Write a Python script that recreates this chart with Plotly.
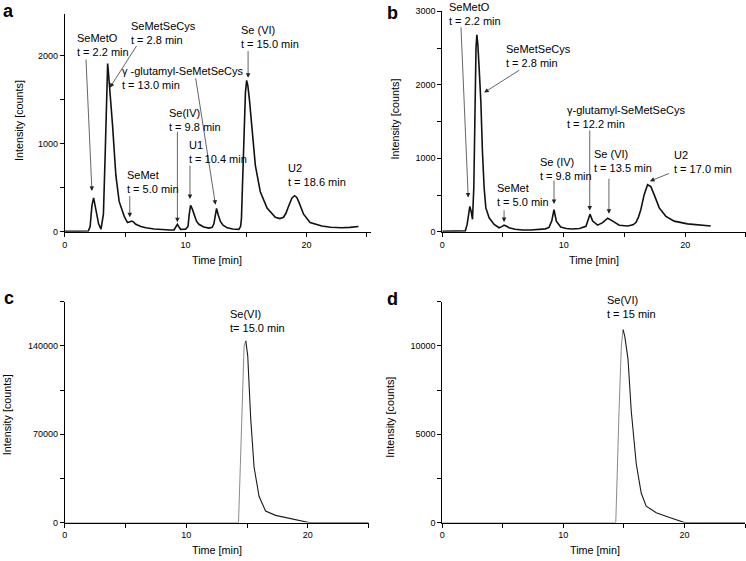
import plotly.graph_objects as go

# ---------------- data ----------------
time_a = [0, 1.0, 1.95, 2.1, 2.25, 2.39, 2.55, 2.8, 3.0, 3.2, 3.35, 3.47, 3.55, 3.62, 3.74,
          3.96, 4.23, 4.5, 4.92, 5.19, 5.4, 5.55, 5.7, 5.88, 6.3, 6.7, 7.4, 8.08, 8.7, 9.04,
          9.2, 9.32, 9.45, 9.59, 10.0, 10.2, 10.3, 10.41, 10.55, 10.69, 10.9, 11.1, 11.5,
          11.93, 12.2, 12.34, 12.45, 12.56, 12.7, 12.89, 13.1, 13.44, 13.9, 14.4, 14.55,
          14.62, 14.7, 14.8, 14.95, 15.05, 15.15, 15.28, 15.5, 15.77, 16.18, 16.74, 17.42,
          17.8, 18.1, 18.3, 18.52, 18.8, 19.02, 19.2, 19.35, 19.76, 20.3, 21.27, 22.0,
          22.9, 23.6, 24.3]
intensity_a = [5, 5, 8, 60, 300, 385, 250, 90, 30, 200, 900, 1650, 1910, 1800, 1610,
               1200, 640, 345, 175, 105, 115, 122, 110, 85, 60, 45, 32, 24, 20, 22,
               55, 85, 55, 28, 30, 60, 200, 300, 260, 195, 120, 85, 55,
               42, 50, 90, 200, 265, 190, 115, 75, 45, 32, 28, 60,
               150, 500, 1000, 1580, 1720, 1660, 1500, 1130, 755, 455, 270, 165,
               150, 165, 210, 290, 385, 410, 390, 345, 200, 105, 65, 52,
               45, 50, 60]

time_b = [0, 1.0, 1.9, 2.05, 2.17, 2.27, 2.38, 2.49, 2.6, 2.7, 2.78, 2.85, 2.93, 3.04,
          3.18, 3.31, 3.45, 3.59, 3.86, 4.27, 4.68, 4.9, 5.09, 5.3, 5.5, 6.0, 6.6, 7.3,
          7.97, 8.5, 8.79, 9.01, 9.2, 9.39, 9.75, 10.2, 10.7, 11.3, 11.83, 12.02, 12.16,
          12.38, 12.79, 13.2, 13.62, 14.03, 14.57, 15.26, 15.7, 15.94, 16.15, 16.35,
          16.62, 16.9, 17.17, 17.44, 17.86, 18.41, 19.09, 20.19, 21.28, 22.1]
intensity_b = [8, 8, 12, 100, 280, 345, 280, 170, 600, 1800, 2500, 2680, 2550, 2220,
               1770, 1090, 595, 325, 190, 100, 55, 70, 90, 75, 55, 35, 25, 25,
               28, 40, 60, 145, 300, 145, 65, 45, 38, 45, 75, 190, 240,
               145, 90, 125, 185, 145, 90, 78, 95, 125, 200, 305,
               505, 640, 615, 505, 325, 210, 145, 108, 90, 78]

time_c = [0, 5, 10, 14.3, 14.45, 14.57, 14.76, 14.9, 15.06, 15.3, 15.58, 15.99, 16.53,
          17.35, 18.72, 19.95, 20.1, 25]
intensity_c = [0, 0, 0, 0, 45000, 88000, 140000, 144000, 132000, 83000, 44000, 20800,
               9100, 5700, 3100, 500, 0, 0]

time_d = [0, 5, 10, 14.33, 14.6, 14.79, 14.93, 15.07, 15.34, 15.61, 16.02, 16.43, 16.84,
          17.67, 18.77, 19.87, 20.0, 25]
intensity_d = [0, 0, 0, 0, 6300, 10000, 10930, 10560, 9260, 6300, 3330, 1670, 930,
               560, 280, 40, 0, 0]

x_ticks = [0, 10, 20]
y_ticks_a = [0, 1000, 2000]
y_ticks_b = [0, 1000, 2000, 3000]
y_ticks_c = [0, 70000, 140000]
y_ticks_d = [0, 5000, 10000]

panel_letters = ["a", "b", "c", "d"]
x_title = "Time [min]"
y_title = "Intensity [counts]"

# peak labels: (text, arrow-head time, arrow-head intensity)
labels_a = [("SeMetO<br>t = 2.2 min", 2.25, 463),
            ("SeMetSeCys<br>t = 2.8 min", 3.73, 1636),
            ("γ -glutamyl-SeMetSeCys<br>t = 13.0 min", 12.47, 307),
            ("Se (VI)<br>t = 15.0 min", 15.17, 1748),
            ("Se(IV)<br>t = 9.8 min", 9.32, 109),
            ("U1<br>t = 10.4 min", 10.36, 371),
            ("SeMet<br>t = 5.0 min", 5.38, 165),
            ("U2<br>t = 18.6 min", None, None)]
labels_b = [("SeMetO<br>t = 2.2 min", 2.14, 466),
            ("SeMetSeCys<br>t = 2.8 min", 3.45, 1895),
            ("γ-glutamyl-SeMetSeCys<br>t = 12.2 min", 12.14, 288),
            ("Se (VI)<br>t = 13.5 min", 13.72, 244),
            ("Se (IV)<br>t = 9.8 min", 9.2, 378),
            ("SeMet<br>t = 5.0 min", 5.09, 131),
            ("U2<br>t = 17.0 min", 17.09, 689)]
labels_c = [("Se(VI)<br>t= 15.0 min", None, None)]
labels_d = [("Se(VI)<br>t = 15 min", None, None)]

# ---------------- layout helpers (pixel placement) ----------------
W, H = 746, 561
FONT = "Arial, Liberation Sans, Helvetica, sans-serif"


def px(x):
    return x / W


def py(y):
    return 1 - y / H


# text block positions (left px, middle px) and arrow tails (offset px)
text_pos_a = [(72, 41.5), (126.7, 29), (117.3, 75.5), (236.7, 34), (165, 117.5),
              (184.3, 150), (122.7, 181), (284.3, 174)]
arrow_off_a = [(-6, -133), (27.7, -43.3), (-20, -128), (0, -28.3), (0, -91.7),
               (0, -35), (0, -22.7), None]
text_pos_b = [(445.7, 10.3), (503, 52.5), (564.7, 115), (591.3, 160), (537, 167.5),
              (493.7, 194.3), (671.3, 160.8)]
arrow_off_b = [(-7.3, -171.7), (36.7, -23.3), (0, -81.7), (0, -36.6), (0, -25),
               (0, -13.4), (20.7, -8.3)]
text_pos_c = [(226, 321.7)]
text_pos_d = [(604.7, 308.3)]

fig = go.Figure()
line_style = dict(color="#111111", width=1.6)
fig.add_trace(go.Scatter(x=time_a, y=intensity_a, mode="lines", line=line_style,
                         xaxis="x", yaxis="y", showlegend=False))
fig.add_trace(go.Scatter(x=time_b, y=intensity_b, mode="lines", line=line_style,
                         xaxis="x2", yaxis="y2", showlegend=False))


def add_peak_trace(t, v, xa, ya):
    # rising edge drawn in a lighter grey, the rest in black, as in the reference
    k = v.index(max(v))
    fig.add_trace(go.Scatter(x=t[:k + 1], y=v[:k + 1], mode="lines",
                             line=dict(color="#8a8a8a", width=1.0),
                             xaxis=xa, yaxis=ya, showlegend=False))
    fig.add_trace(go.Scatter(x=t[k:], y=v[k:], mode="lines",
                             line=dict(color="#1a1a1a", width=1.1),
                             xaxis=xa, yaxis=ya, showlegend=False))


add_peak_trace(time_c, intensity_c, "x3", "y3")
add_peak_trace(time_d, intensity_d, "x4", "y4")

tickfont = dict(family=FONT, size=9, color="black")


def xax(dom, rng, anchor):
    return dict(domain=[px(dom[0]), px(dom[1])], range=rng, anchor=anchor,
                tickvals=x_ticks, showline=True, linecolor="black", linewidth=1,
                ticks="outside", ticklen=4, tickwidth=1, tickcolor="black",
                minor=dict(dtick=5, tick0=0, ticks="outside", ticklen=4,
                           tickcolor="black", tickwidth=1),
                showgrid=False, zeroline=False, tickfont=tickfont, fixedrange=True)


def yax(dom, rng, anchor, tv, minor_dt):
    return dict(domain=[py(dom[0]), py(dom[1])], range=rng, anchor=anchor,
                tickvals=tv, tickformat="d", showline=True, linecolor="black",
                linewidth=1, ticks="outside", ticklen=4, tickwidth=1,
                tickcolor="black",
                minor=dict(dtick=minor_dt, tick0=0, ticks="outside", ticklen=4,
                           tickcolor="black", tickwidth=1),
                showgrid=False, zeroline=False, tickfont=tickfont, fixedrange=True)


annotations = []
txtfont = dict(family=FONT, size=11, color="black")


def add_labels(labels, tpos, offs, xr, yr):
    for i, (txt, ht, hi) in enumerate(labels):
        lx, ly = tpos[i]
        annotations.append(dict(text=txt, x=px(lx), y=py(ly), xref="paper",
                                yref="paper", xanchor="left", yanchor="middle",
                                align="left", showarrow=False, font=txtfont))
        if offs is not None and ht is not None:
            ax, ay = offs[i]
            annotations.append(dict(text="", x=ht, y=hi, xref=xr, yref=yr,
                                    ax=ax, ay=ay, axref="pixel", ayref="pixel",
                                    showarrow=True, arrowhead=2, arrowsize=1.3,
                                    arrowwidth=0.7, arrowcolor="#222222"))


add_labels(labels_a, text_pos_a, arrow_off_a, "x", "y")
add_labels(labels_b, text_pos_b, arrow_off_b, "x2", "y2")
add_labels(labels_c, text_pos_c, None, "x3", "y3")
add_labels(labels_d, text_pos_d, None, "x4", "y4")

# panel letters
letter_pos = [(6, 7.3), (391, 9.6), (6, 298.6), (391, 299.6)]
for L, (lx, ly) in zip(panel_letters, letter_pos):
    annotations.append(dict(text="<b>%s</b>" % L, x=px(lx), y=py(ly), xref="paper",
                            yref="paper", xanchor="center", yanchor="middle",
                            showarrow=False,
                            font=dict(family=FONT, size=18, color="black")))

# axis titles
titlefont = dict(family=FONT, size=10.8, color="black")
for (cx, cy) in [(214.7, 260.5), (593, 260.5), (214.5, 555), (594, 555)]:
    annotations.append(dict(text=x_title, x=px(cx), y=py(cy), xref="paper",
                            yref="paper", xanchor="center", yanchor="middle",
                            showarrow=False, font=titlefont))
for (cx, cy) in [(16, 118), (394, 117), (4, 417), (389, 420)]:
    annotations.append(dict(text=y_title, x=px(cx), y=py(cy), xref="paper",
                            yref="paper", xanchor="center", yanchor="middle",
                            textangle=-90, showarrow=False, font=titlefont))

fig.update_layout(
    width=W, height=H, autosize=False,
    margin=dict(l=0, r=0, t=0, b=0),
    paper_bgcolor="white", plot_bgcolor="white",
    font=dict(family=FONT, color="black"),
    xaxis=xax((62, 369), [0, 25.3], "y"),
    yaxis=yax((231.5, 10), [0, 2475], "x", y_ticks_a, 500),
    xaxis2=xax((441, 746), [0, 25], "y2"),
    yaxis2=yax((231.5, 6.7), [0, 3010], "x2", y_ticks_b, 500),
    xaxis3=xax((62, 367), [0, 25], "y3"),
    yaxis3=yax((527, 302.7), [0, 175000], "x3", y_ticks_c, 35000),
    xaxis4=xax((441, 745), [0, 25], "y4"),
    yaxis4=yax((527, 302.7), [0, 12500], "x4", y_ticks_d, 2500),
    annotations=annotations,
)

fig.write_html("out.html", config={"displayModeBar": False},
               post_script="document.body.style.margin='0';"
                           "document.body.style.overflow='hidden';")
